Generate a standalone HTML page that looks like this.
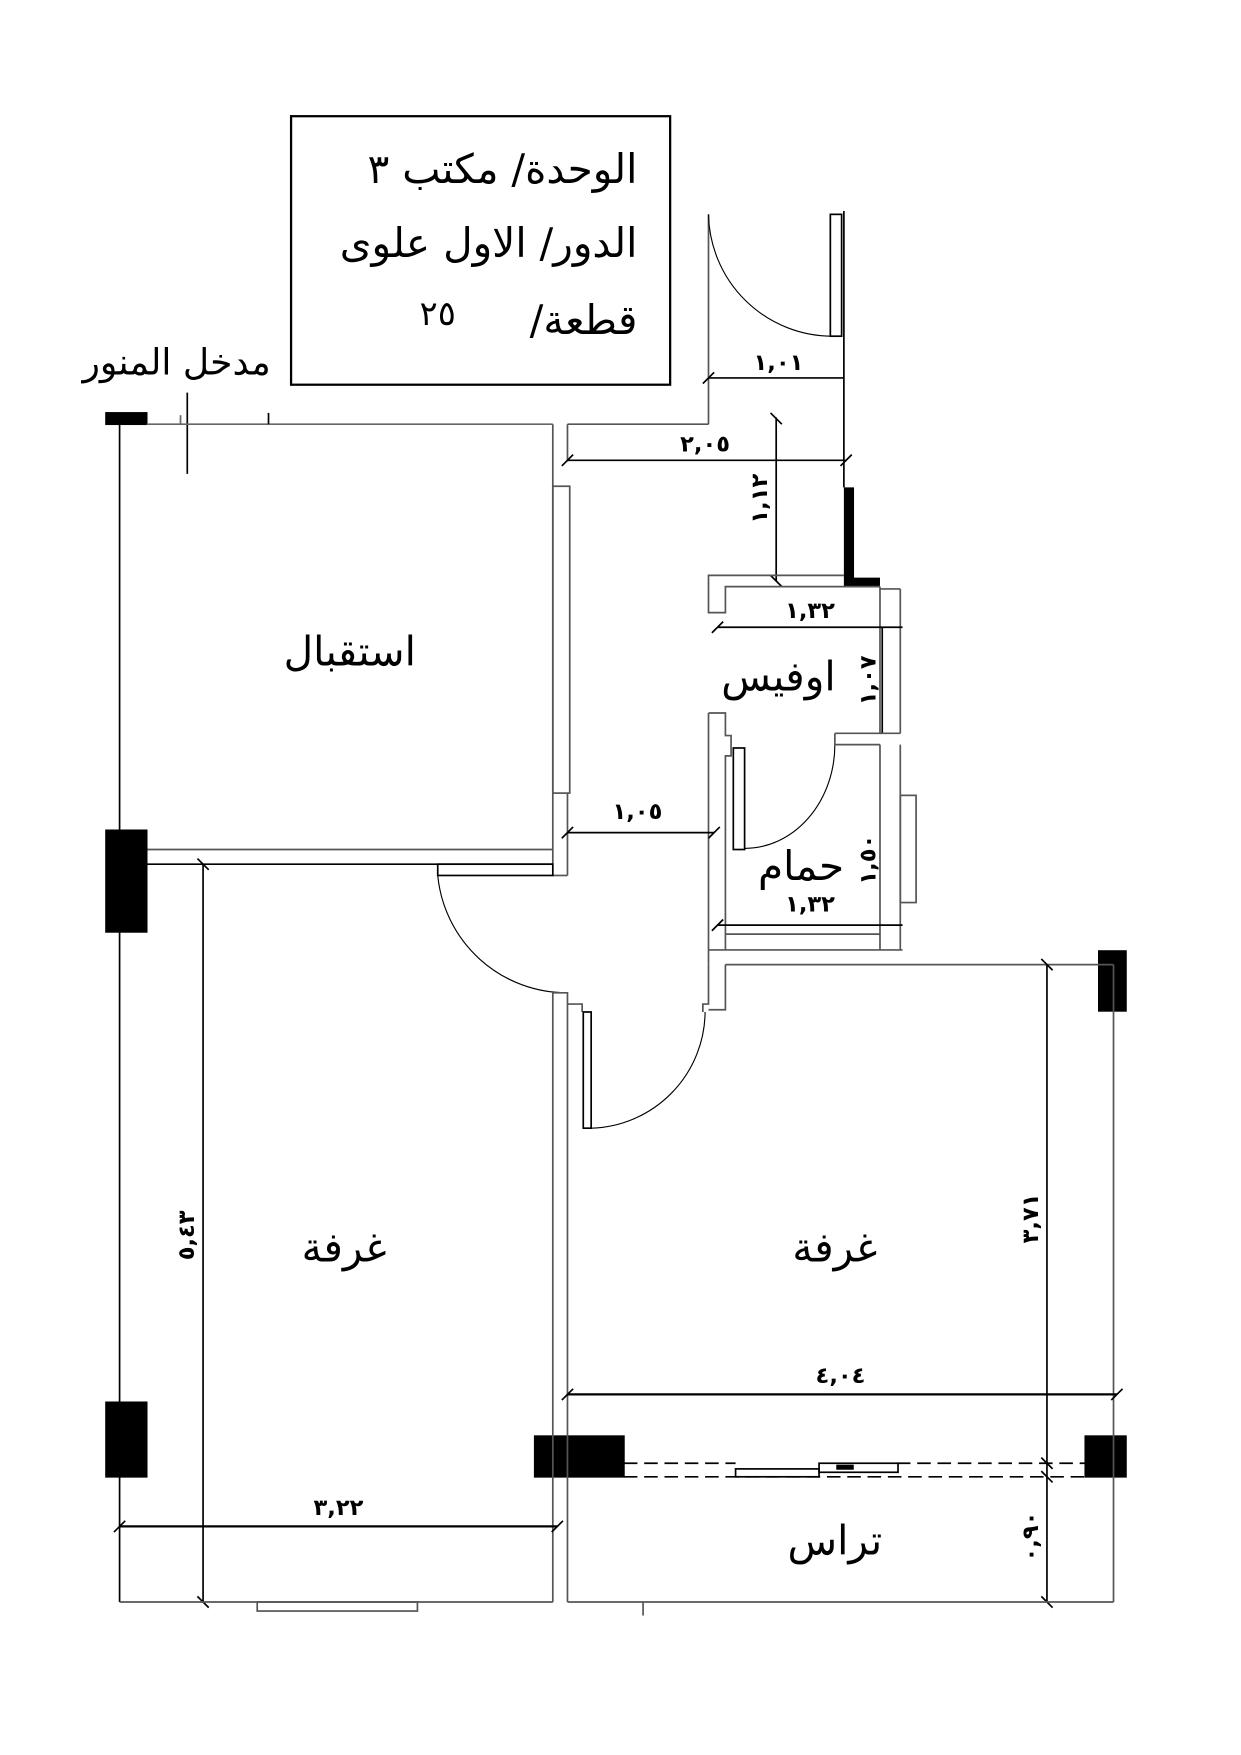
<!DOCTYPE html>
<html><head><meta charset="utf-8"><style>
html,body{margin:0;padding:0;background:#fff}
svg{display:block}
text{font-family:"DejaVu Sans","Noto Sans CJK SC",sans-serif;fill:#000}
.t{font-size:36px}
.d{font-size:20px;font-weight:bold}
</style></head><body>
<svg width="1241" height="1755" viewBox="0 0 1100 1555.6" preserveAspectRatio="none" xmlns="http://www.w3.org/2000/svg" fill="none" stroke="#000" stroke-width="1.5">
<!-- title box -->
<rect x="258" y="103" width="336" height="238" stroke-width="2"/>
<g stroke="none">
<text class="t" x="565" y="162" text-anchor="start" direction="rtl">الوحدة/ مكتب ٣</text>
<text class="t" x="565" y="228" text-anchor="start" direction="rtl">الدور/ الاول علوى</text>
<text class="t" x="565" y="296" text-anchor="start" direction="rtl">قطعة/</text>
<text class="t" x="388" y="288" text-anchor="middle" style="font-size:30px">٢٥</text>
<text class="t" x="240" y="332" text-anchor="start" direction="rtl" style="font-size:32px">مدخل المنور</text>
</g>
<line x1="166" y1="348" x2="166" y2="420"/>
<!-- top wall -->
<rect x="94" y="366" width="36" height="10" fill="#000"/>
<line x1="130" y1="376" x2="490" y2="376" stroke="#666"/>
<line x1="160" y1="368" x2="160" y2="376" stroke="#666"/>
<line x1="238" y1="366" x2="238" y2="376"/>
<line x1="106" y1="376" x2="106" y2="1420"/>
<!-- reception right wall -->
<line x1="490" y1="376" x2="490" y2="766" stroke="#555"/>
<line x1="503" y1="376" x2="503" y2="409" stroke="#555"/>
<line x1="503" y1="703" x2="503" y2="776" stroke="#555"/>
<rect x="490" y="431" width="15" height="272" stroke="#555"/>
<line x1="130" y1="753" x2="490" y2="753" stroke="#555"/>
<line x1="130" y1="766" x2="490" y2="766"/>
<line x1="490" y1="776" x2="503" y2="776" stroke="#555"/>
<rect x="388" y="766" width="102" height="10"/>
<path d="M388,776 A115,115 0 0 0 503,880" stroke-width="1"/>
<!-- columns -->
<rect x="94" y="736" width="36" height="90" fill="#000"/>
<rect x="94" y="1243" width="36" height="66" fill="#000"/>
<rect x="474" y="1273" width="79" height="36" fill="#000"/>
<rect x="962" y="1273" width="36" height="36" fill="#000"/>
<rect x="974" y="843" width="24" height="53" fill="#000"/>
<!-- corridor top / entrance -->
<line x1="503" y1="376" x2="628" y2="376" stroke="#555"/>
<line x1="628" y1="190" x2="628" y2="376" stroke="#555"/>
<path d="M628,190 A110,110 0 0 0 738,298" stroke-width="1"/>
<rect x="736" y="190" width="10" height="108"/>
<line x1="748" y1="187" x2="748" y2="432"/>
<line x1="628" y1="335" x2="748" y2="335"/>
<line x1="623" y1="340" x2="633" y2="330"/>
<g stroke="none"><text class="d" x="690" y="328" text-anchor="middle">١,٠١</text>
<text class="d" x="625" y="400" text-anchor="middle">٢,٠٥</text>
<text class="d" x="565" y="726" text-anchor="middle">١,٠٥</text>
<text class="d" x="718" y="548" text-anchor="middle">١,٣٢</text>
<text class="d" x="718" y="808" text-anchor="middle">١,٣٢</text>
<text class="d" x="300" y="1343" text-anchor="middle">٣,٢٢</text>
<text class="d" x="745" y="1226" text-anchor="middle">٤,٠٤</text>
<text class="d" transform="translate(680,442) rotate(-90)" text-anchor="middle">١,١٢</text>
<text class="d" transform="translate(776,603) rotate(-90)" text-anchor="middle">١,٠٧</text>
<text class="d" transform="translate(776,762) rotate(-90)" text-anchor="middle">١,٥٠</text>
<text class="d" transform="translate(172,1095) rotate(-90)" text-anchor="middle">٥,٤٣</text>
<text class="d" transform="translate(920,1080) rotate(-90)" text-anchor="middle">٣,٧١</text>
<text class="d" transform="translate(920,1362) rotate(-90)" text-anchor="middle">٠,٩٠</text>
<text class="t" x="310" y="590" text-anchor="middle">استقبال</text>
<text class="t" x="690" y="612" text-anchor="middle">اوفيس</text>
<text class="t" x="710" y="780" text-anchor="middle">حمام</text>
<text class="t" x="305" y="1118" text-anchor="middle">غرفة</text>
<text class="t" x="740" y="1118" text-anchor="middle">غرفة</text>
<text class="t" x="740" y="1378" text-anchor="middle">تراس</text>
</g>
<line x1="503" y1="408" x2="750" y2="408"/>
<line x1="498" y1="413" x2="508" y2="403"/>
<line x1="745" y1="413" x2="755" y2="403"/>
<line x1="688" y1="370" x2="688" y2="515"/>
<line x1="683" y1="366" x2="693" y2="376"/>
<line x1="683" y1="510" x2="693" y2="520"/>
<path d="M748,432 H757 V512 H780 V520 H748 Z" fill="#000" stroke="none"/>
<!-- office -->
<path d="M748,510 H628 V543 H643 V520 H780" stroke="#555"/>
<line x1="780" y1="520" x2="780" y2="650" stroke="#555"/>
<line x1="798" y1="522" x2="798" y2="650" stroke="#555"/>
<line x1="780" y1="522" x2="798" y2="522" stroke="#555"/>
<line x1="636" y1="556" x2="800" y2="556"/>
<line x1="631" y1="561" x2="641" y2="551"/>
<line x1="782" y1="556" x2="782" y2="650"/>
<!-- bathroom -->
<path d="M628,632 H643 V652 H648 V670 H643 V842" stroke="#555"/>
<line x1="628" y1="632" x2="628" y2="855" stroke="#555"/>
<rect x="650" y="663" width="10" height="90"/>
<path d="M660,752 A80,92 0 0 0 740,660" stroke-width="1"/>
<path d="M740,650 H798 M740,650 V660 H780" stroke="#555"/>
<line x1="780" y1="660" x2="780" y2="842" stroke="#555"/>
<line x1="798" y1="660" x2="798" y2="842" stroke="#555"/>
<rect x="798" y="705" width="14" height="95" stroke="#555"/>
<line x1="636" y1="820" x2="800" y2="820"/>
<line x1="631" y1="825" x2="641" y2="815"/>
<line x1="643" y1="828" x2="780" y2="828" stroke="#555"/>
<line x1="628" y1="842" x2="800" y2="842" stroke="#555"/>
<line x1="503" y1="738" x2="633" y2="738"/>
<line x1="498" y1="743" x2="508" y2="733"/>
<line x1="628" y1="743" x2="638" y2="733"/>
<!-- lower corridor door -->
<path d="M490,880 H503 V890 H516 V897" stroke="#555"/>
<line x1="490" y1="880" x2="490" y2="1420" stroke="#555"/>
<line x1="503" y1="890" x2="503" y2="1420" stroke="#555"/>
<rect x="517" y="897" width="7" height="103"/>
<path d="M524,1000 A104,104 0 0 0 625,897" stroke-width="1"/>
<path d="M628,855 V890 H623 V897 M643,855 V895 H628" stroke="#555"/>
<line x1="643" y1="855" x2="987" y2="855" stroke="#555"/>
<line x1="987" y1="855" x2="987" y2="1420" stroke="#555"/>
<line x1="928" y1="855" x2="928" y2="1420"/>
<line x1="923" y1="850" x2="933" y2="860"/>
<line x1="923" y1="1292" x2="933" y2="1302"/>
<line x1="923" y1="1304" x2="933" y2="1314"/>
<line x1="923" y1="1415" x2="933" y2="1425"/>
<!-- left room -->
<line x1="180" y1="766" x2="180" y2="1420"/>
<line x1="175" y1="761" x2="185" y2="771"/>
<line x1="175" y1="1415" x2="185" y2="1425"/>
<line x1="106" y1="1420" x2="490" y2="1420" stroke="#555"/>
<rect x="228" y="1420" width="142" height="8" stroke="#555"/>
<line x1="106" y1="1353" x2="494" y2="1353" stroke-width="2"/>
<line x1="101" y1="1358" x2="111" y2="1348"/>
<line x1="489" y1="1358" x2="499" y2="1348"/>
<!-- right room -->
<line x1="503" y1="1236" x2="990" y2="1236" stroke-width="2"/>
<line x1="498" y1="1241" x2="508" y2="1231"/>
<line x1="985" y1="1241" x2="995" y2="1231"/>
<path d="M553,1297 H652 M553,1309 H962 M795,1297 H962" stroke-dasharray="12,6"/>
<rect x="652" y="1302" width="74" height="7"/>
<rect x="726" y="1297" width="70" height="8"/>
<rect x="742" y="1299" width="14" height="3" fill="#000"/>
<line x1="503" y1="1420" x2="987" y2="1420" stroke="#555"/>
<line x1="570" y1="1420" x2="570" y2="1432" stroke="#555"/>
</svg>
</body></html>
